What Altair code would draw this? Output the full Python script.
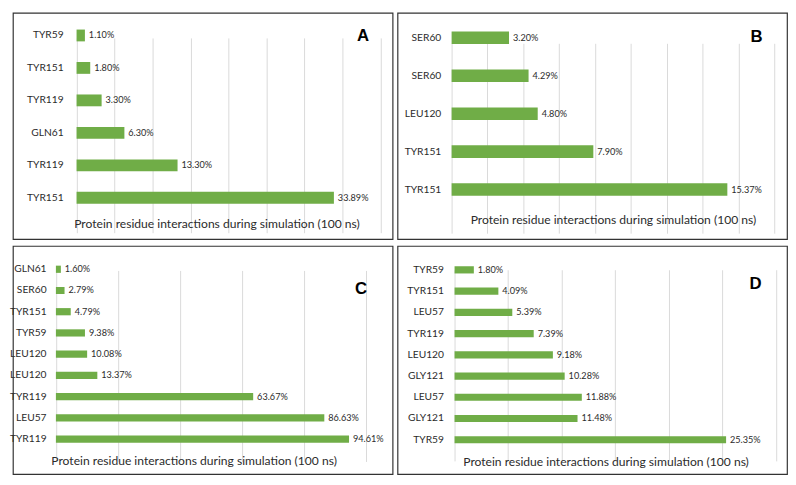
import altair as alt
import pandas as pd

# ---------------- data ----------------
a_names = ["TYR59", "TYR151", "TYR119", "GLN61", "TYR119", "TYR151"]
a_values = [1.10, 1.80, 3.30, 6.30, 13.30, 33.89]
a_ticks = [0, 5, 10, 15, 20, 25, 30, 35, 40]

b_names = ["SER60", "SER60", "LEU120", "TYR151", "TYR151"]
b_values = [3.20, 4.29, 4.80, 7.90, 15.37]
b_ticks = [0, 2, 4, 6, 8, 10, 12, 14, 16, 18]

c_names = ["GLN61", "SER60", "TYR151", "TYR59", "LEU120", "LEU120", "TYR119", "LEU57", "TYR119"]
c_values = [1.60, 2.79, 4.79, 9.38, 10.08, 13.37, 63.67, 86.63, 94.61]
c_ticks = [0, 20, 40, 60, 80, 100]

d_names = ["TYR59", "TYR151", "LEU57", "TYR119", "LEU120", "GLY121", "LEU57", "GLY121", "TYR59"]
d_values = [1.80, 4.09, 5.39, 7.39, 9.18, 10.28, 11.88, 11.48, 25.35]
d_ticks = [0, 5, 10, 15, 20, 25, 30]

TITLE = "Protein residue interactions during simulation (100 ns)"
GREEN = "#70AD47"
FONT = "Lato"
TXT = "#2b2b2b"


def panel(names, values, ticks, letter, W, H, xr, yr, pad_inner,
          label_x, title_x, title_y, letter_x, letter_y):
    df = pd.DataFrame({
        "k": list(range(len(names))),
        "name": names,
        "v": values,
        "label": [f"{v:.2f}%" for v in values],
    })
    arr = "[" + ",".join(f"'{n}'" for n in names) + "]"
    x = alt.X(
        "v:Q",
        scale=alt.Scale(domain=[ticks[0], ticks[-1]], range=xr, nice=False, zero=True),
        axis=alt.Axis(
            values=ticks, labels=False, ticks=False, domain=False,
            grid=True, gridColor="#D9D9D9", gridWidth=1,
            title=TITLE, titleX=title_x, titleY=title_y,
            titleAlign="center", titleBaseline="alphabetic",
            titleFont=FONT, titleFontSize=12.3, titleFontWeight="normal",
            titleColor=TXT,
        ),
    )
    y = alt.Y(
        "k:O",
        sort=None,
        scale=alt.Scale(domain=list(range(len(names))), range=yr,
                        paddingInner=pad_inner, paddingOuter=pad_inner / 2),
        axis=alt.Axis(
            title=None, labelExpr=f"{arr}[datum.value]",
            ticks=False, tickSize=0, domain=False, grid=False,
            labelPadding=0, offset=-label_x,
            labelFont=FONT, labelFontSize=10.4, labelColor=TXT,
        ),
    )
    base = alt.Chart(df)
    bars = base.mark_bar(color=GREEN).encode(x=x, y=y)
    text = base.mark_text(
        align="left", baseline="middle", dx=4, font=FONT, fontSize=9.3, color=TXT
    ).encode(x=x, y=y, text="label:N")
    let = alt.Chart(pd.DataFrame({"t": [letter]})).mark_text(
        align="center", baseline="middle", font="Liberation Sans",
        fontSize=17, fontWeight="bold", color="#000000"
    ).encode(x=alt.value(letter_x), y=alt.value(letter_y), text="t:N")
    return alt.layer(bars, text, let).properties(width=W, height=H)


pa = panel(a_names, a_values, a_ticks, "A", 386, 230, [64.7, 373.5], [6.5, 204.5], 0.636,
           51, 207, -12, 356, 24)
pb = panel(b_names, b_values, b_ticks, "B", 396, 230, [55, 383.3], [6, 199], 0.67,
           44, 219, -16, 365, 25)
pc = panel(c_names, c_values, c_ticks, "C", 386, 232, [43.7, 358.7], [12.9, 207.1], 0.66,
           33.7, 183.7, -10.3, 354, 43.7)
pd_ = panel(d_names, d_values, d_ticks, "D", 396, 232, [58, 384.7], [13.5, 207.8], 0.66,
            46.7, 211.5, -9.3, 364, 38.7)

chart = alt.vconcat(
    alt.hconcat(pa, pb, spacing=3),
    alt.hconcat(pc, pd_, spacing=3),
    spacing=5,
).properties(padding=0, background="white").configure_view(
    stroke="#333333", strokeWidth=1.2
)

chart.save("out.html", embed_options={"renderer": "svg", "actions": False})
